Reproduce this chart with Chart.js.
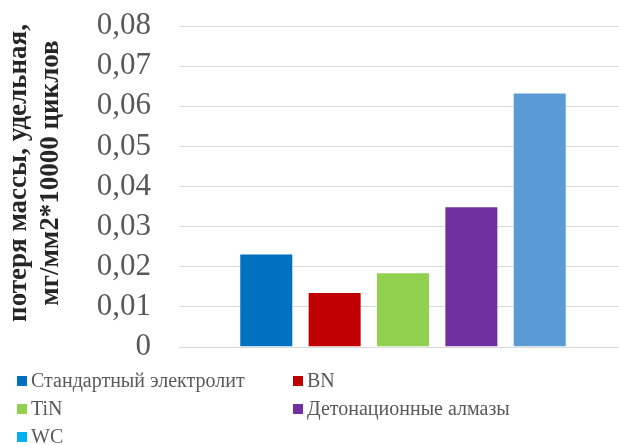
<!DOCTYPE html>
<html>
<head>
<meta charset="utf-8">
<script src="https://cdn.jsdelivr.net/npm/chart.js@4.4.1/dist/chart.umd.min.js"></script>
<style>
  html, body { margin: 0; padding: 0; background: #fff; overflow: hidden; }
  /* plot runs a few pixels past the right edge of the page */
  #wrap { width: 627px; height: 445px; position: relative; }
</style>
</head>
<body>
<div id="wrap"><canvas id="chart"></canvas></div>
<script>
const seriesNames = ['Стандартный электролит', 'BN', 'TiN', 'Детонационные алмазы', 'WC']
const lossValues = [0.0233, 0.0137, 0.0186, 0.0351, 0.0634]
const barColors = ['#0070C0', '#C00000', '#92D050', '#7030A0', '#5B9BD5']
const legendColors = ['#0070C0', '#C00000', '#92D050', '#7030A0', '#00B0F0']
const yTicks = [0, 0.01, 0.02, 0.03, 0.04, 0.05, 0.06, 0.07, 0.08]
const yTitle = ['потеря массы, удельная,', 'мг/мм2*10000 циклов']

const SERIF = '"Liberation Serif", "Times New Roman", serif'

// two-column legend under the plot
const gridLegend = {
  id: 'gridLegend',
  afterDraw(chart) {
    const { ctx } = chart
    const cols = [17, 293]
    const rows = [381, 409, 437]
    ctx.save()
    ctx.font = '20px ' + SERIF
    ctx.textBaseline = 'middle'
    chart.data.datasets.forEach((ds, i) => {
      const x = cols[i % 2]
      const y = rows[Math.floor(i / 2)]
      ctx.fillStyle = legendColors[i]
      ctx.fillRect(x, y - 5, 10, 10)
      ctx.fillStyle = '#595959'
      ctx.fillText(ds.label, x + 14, y + 1)
    })
    ctx.restore()
  }
}

// rotated two-line axis title, centred a bit above the plot middle
const axisTitle = {
  id: 'axisTitle',
  afterDraw(chart) {
    const { ctx } = chart
    const xs = [19, 51]
    ctx.save()
    ctx.font = 'bold 27px ' + SERIF
    ctx.fillStyle = '#262626'
    ctx.textAlign = 'center'
    ctx.textBaseline = 'middle'
    yTitle.forEach((line, i) => {
      ctx.save()
      ctx.translate(xs[i], 173)
      ctx.rotate(-Math.PI / 2)
      ctx.fillText(line, 0, 0)
      ctx.restore()
    })
    ctx.restore()
  }
}

new Chart(document.getElementById('chart'), {
  type: 'bar',
  data: {
    labels: [''],
    datasets: seriesNames.map((name, i) => ({
      label: name,
      data: [lossValues[i]],
      backgroundColor: barColors[i],
      borderColor: 'rgba(255,255,255,0.35)',
      borderWidth: 1,
      categoryPercentage: 0.763,
      barPercentage: 0.79,
    }))
  },
  options: {
    responsive: true,
    maintainAspectRatio: false,
    animation: false,
    layout: { padding: { top: 26, right: 0, bottom: 98, left: 0 } },
    scales: {
      x: { display: false },
      y: {
        min: 0,
        max: 0.08,
        afterFit(scale) {
          scale.width = 179
          scale.paddingTop = 0
          scale.paddingBottom = 0
        },
        afterBuildTicks(scale) { scale.ticks = yTicks.map(v => ({ value: v })) },
        border: { display: false },
        grid: { color: '#d9d9d9', drawTicks: false },
        ticks: {
          color: '#595959',
          padding: 28,
          autoSkip: false,
          font: { family: SERIF, size: 31, lineHeight: 1 },
          callback(v) { return String(+v.toFixed(2)).replace('.', ',') }
        }
      }
    },
    plugins: {
      legend: { display: false },
      tooltip: { enabled: false }
    }
  },
  plugins: [gridLegend, axisTitle]
})
</script>
</body>
</html>
